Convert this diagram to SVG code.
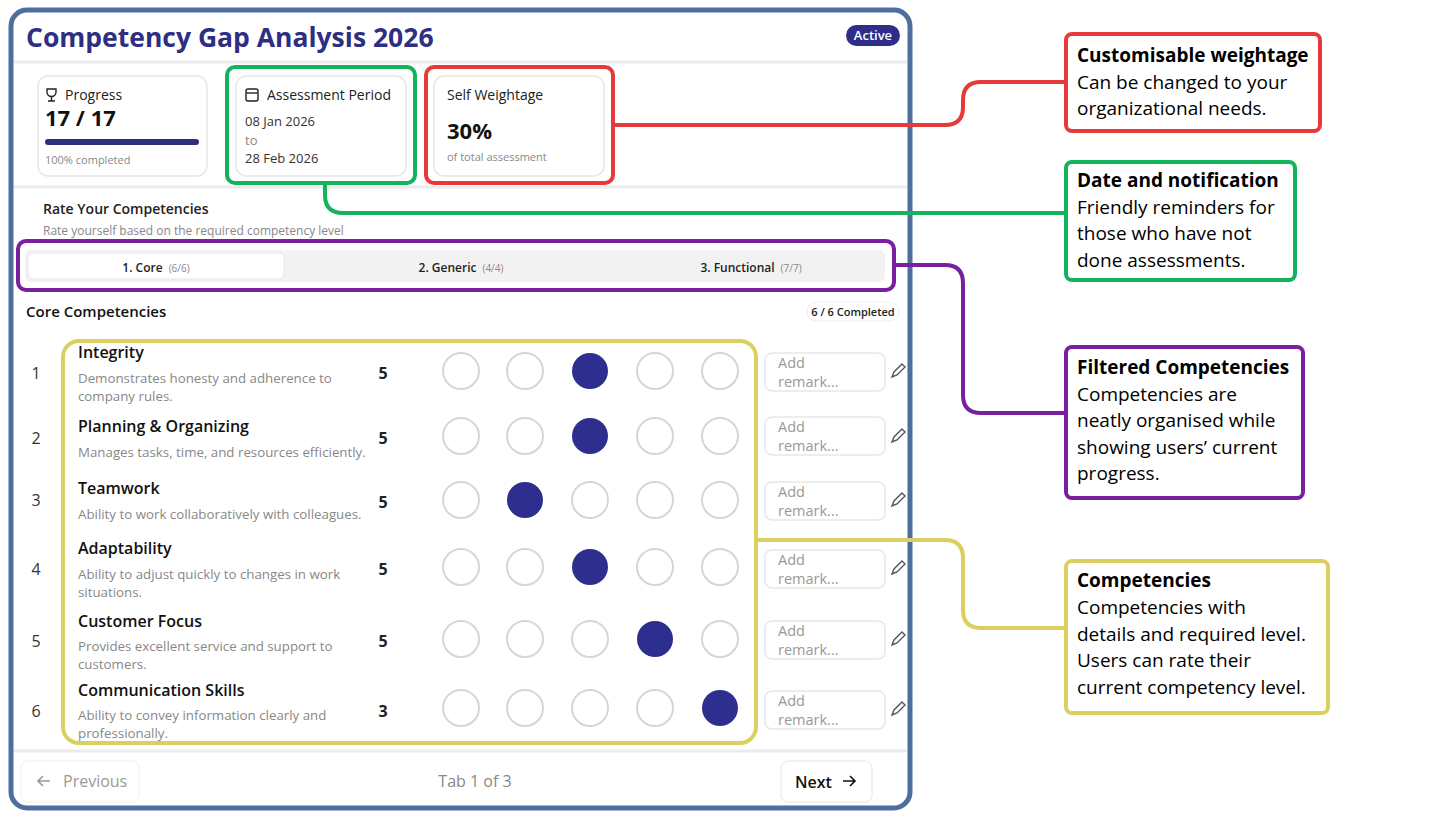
<svg xmlns="http://www.w3.org/2000/svg" width="1456" height="840" viewBox="0 0 1456 840">
<style>
text{font-family:"Segoe UI","Open Sans","Noto Sans",sans-serif}
.card{fill:#fff;stroke:#e6e6e6;stroke-width:1.5}
.sep{stroke:#ebebeb;stroke-width:3}
.num{font-size:16px;fill:#333}
.tt{font-size:16px;font-weight:600;fill:#111}
.ds{font-size:13.3px;fill:#888}
.lv{font-size:16px;font-weight:700;fill:#222}
.c{fill:#fff;stroke:#d6d6d6;stroke-width:2}
.f{fill:#2e2e8e}
.rm{fill:#fff;stroke:#e8e8e8;stroke-width:1.5}
.rt{font-size:14.5px;fill:#999}
.ct{font-size:19px;font-weight:700;fill:#000}
.cb{font-size:19px;fill:#000}
.conn{fill:none;stroke-width:4}
</style>
<rect width="1456" height="840" fill="#fff"/>
<g id="frame">
<rect x="11" y="10" width="899" height="798" rx="16" fill="#fff" stroke="#4d6f9d" stroke-width="5"/>
<text x="26" y="47" font-size="26.5" font-weight="700" fill="#2e2e82">Competency Gap Analysis 2026</text>
<rect x="846" y="25" width="54" height="21" rx="10.5" fill="#2e2e8a"/>
<text x="873" y="40" font-size="13" font-weight="600" fill="#fff" text-anchor="middle">Active</text>
<line x1="14" y1="62" x2="907" y2="62" class="sep"/>
<line x1="14" y1="187" x2="907" y2="187" class="sep"/>
<line x1="14" y1="751" x2="907" y2="751" class="sep"/>
</g>
<g id="progress">
<rect x="38" y="76" width="169" height="100" rx="10" class="card"/>
<path d="M47 89h9v3a4.5 4.5 0 0 1-9 0z M51.5 96.5v4 M48 101h7" fill="none" stroke="#222" stroke-width="1.4"/>
<text x="65" y="100" font-size="14" fill="#222">Progress</text>
<text x="45" y="126" font-size="22" font-weight="700" fill="#111">17 / 17</text>
<rect x="45" y="139" width="154" height="6" rx="3" fill="#2e2e82"/>
<text x="45" y="164" font-size="11" fill="#888">100% completed</text>
</g>
<g id="period">
<rect x="236" y="76" width="170" height="100" rx="10" class="card"/>
<rect x="246" y="89" width="12" height="12" rx="2" fill="none" stroke="#222" stroke-width="1.4"/>
<line x1="246" y1="93" x2="258" y2="93" stroke="#222" stroke-width="1.4"/>
<text x="267" y="100" font-size="14" fill="#222">Assessment Period</text>
<text x="245" y="126" font-size="13" fill="#333">08 Jan 2026</text>
<text x="245" y="145" font-size="13" fill="#888">to</text>
<text x="245" y="163" font-size="13" fill="#333">28 Feb 2026</text>
</g>
<g id="weight">
<rect x="434" y="76" width="170" height="100" rx="10" class="card"/>
<text x="447" y="100" font-size="14" fill="#222">Self Weightage</text>
<text x="447" y="139" font-size="22" font-weight="700" fill="#111">30%</text>
<text x="447" y="161" font-size="11" fill="#888">of total assessment</text>
</g>
<g id="rate">
<text x="43" y="214" font-size="14" font-weight="600" fill="#222">Rate Your Competencies</text>
<text x="43" y="235" font-size="12" fill="#888">Rate yourself based on the required competency level</text>
</g>
<g id="tabs">
<rect x="25" y="250" width="860" height="32" rx="6" fill="#f2f2f2"/>
<rect x="28" y="253" width="256" height="26" rx="5" fill="#fff" stroke="#e6e6e6"/>
<text x="156" y="272" font-size="12" text-anchor="middle"><tspan fill="#222" font-weight="600">1. Core</tspan><tspan fill="#888" font-size="10" dx="6">(6/6)</tspan></text>
<text x="461" y="272" font-size="12" text-anchor="middle"><tspan fill="#222" font-weight="600">2. Generic</tspan><tspan fill="#888" font-size="10" dx="6">(4/4)</tspan></text>
<text x="751" y="272" font-size="12" text-anchor="middle"><tspan fill="#222" font-weight="600">3. Functional</tspan><tspan fill="#888" font-size="10" dx="6">(7/7)</tspan></text>
</g>
<g id="core">
<text x="26" y="317" font-size="15" font-weight="600" fill="#111">Core Competencies</text>
<rect x="807" y="302" width="92" height="19" rx="9.5" fill="#fff" stroke="#eee"/>
<text x="853" y="316" font-size="11" font-weight="600" fill="#222" text-anchor="middle">6 / 6 Completed</text>
</g>
<g id="rows">
<text x="36" y="379" class="num" text-anchor="middle">1</text>
<text x="78" y="358" class="tt">Integrity</text>
<text x="78" y="383" class="ds">Demonstrates honesty and adherence to</text>
<text x="78" y="401" class="ds">company rules.</text>
<text x="383" y="379" class="lv" text-anchor="middle">5</text>

<text x="36" y="444" class="num" text-anchor="middle">2</text>
<text x="78" y="432" class="tt">Planning &amp; Organizing</text>
<text x="78" y="457" class="ds">Manages tasks, time, and resources efficiently.</text>
<text x="383" y="444" class="lv" text-anchor="middle">5</text>

<text x="36" y="506" class="num" text-anchor="middle">3</text>
<text x="78" y="494" class="tt">Teamwork</text>
<text x="78" y="519" class="ds">Ability to work collaboratively with colleagues.</text>
<text x="383" y="508" class="lv" text-anchor="middle">5</text>

<text x="36" y="575" class="num" text-anchor="middle">4</text>
<text x="78" y="554" class="tt">Adaptability</text>
<text x="78" y="579" class="ds">Ability to adjust quickly to changes in work</text>
<text x="78" y="597" class="ds">situations.</text>
<text x="383" y="575" class="lv" text-anchor="middle">5</text>

<text x="36" y="647" class="num" text-anchor="middle">5</text>
<text x="78" y="627" class="tt">Customer Focus</text>
<text x="78" y="651" class="ds">Provides excellent service and support to</text>
<text x="78" y="669" class="ds">customers.</text>
<text x="383" y="647" class="lv" text-anchor="middle">5</text>

<text x="36" y="717" class="num" text-anchor="middle">6</text>
<text x="78" y="696" class="tt">Communication Skills</text>
<text x="78" y="720" class="ds">Ability to convey information clearly and</text>
<text x="78" y="738" class="ds">professionally.</text>
<text x="383" y="717" class="lv" text-anchor="middle">3</text>
</g>
<g id="ratings">
<circle cx="461" cy="371" r="18" class="c"/><circle cx="525" cy="371" r="18" class="c"/><circle cx="590" cy="371" r="18" class="f"/><circle cx="655" cy="371" r="18" class="c"/><circle cx="720" cy="371" r="18" class="c"/>
<circle cx="461" cy="436" r="18" class="c"/><circle cx="525" cy="436" r="18" class="c"/><circle cx="590" cy="436" r="18" class="f"/><circle cx="655" cy="436" r="18" class="c"/><circle cx="720" cy="436" r="18" class="c"/>
<circle cx="461" cy="500" r="18" class="c"/><circle cx="525" cy="500" r="18" class="f"/><circle cx="590" cy="500" r="18" class="c"/><circle cx="655" cy="500" r="18" class="c"/><circle cx="720" cy="500" r="18" class="c"/>
<circle cx="461" cy="567" r="18" class="c"/><circle cx="525" cy="567" r="18" class="c"/><circle cx="590" cy="567" r="18" class="f"/><circle cx="655" cy="567" r="18" class="c"/><circle cx="720" cy="567" r="18" class="c"/>
<circle cx="461" cy="639" r="18" class="c"/><circle cx="525" cy="639" r="18" class="c"/><circle cx="590" cy="639" r="18" class="c"/><circle cx="655" cy="639" r="18" class="f"/><circle cx="720" cy="639" r="18" class="c"/>
<circle cx="461" cy="708" r="18" class="c"/><circle cx="525" cy="708" r="18" class="c"/><circle cx="590" cy="708" r="18" class="c"/><circle cx="655" cy="708" r="18" class="c"/><circle cx="720" cy="708" r="18" class="f"/>
</g>
<g id="remarks">
<rect x="765" y="353" width="120" height="38" rx="7" class="rm"/><text x="778" y="368" class="rt">Add</text><text x="778" y="387" class="rt">remark...</text>
<rect x="765" y="417" width="120" height="38" rx="7" class="rm"/><text x="778" y="432" class="rt">Add</text><text x="778" y="451" class="rt">remark...</text>
<rect x="765" y="482" width="120" height="38" rx="7" class="rm"/><text x="778" y="497" class="rt">Add</text><text x="778" y="516" class="rt">remark...</text>
<rect x="765" y="550" width="120" height="38" rx="7" class="rm"/><text x="778" y="565" class="rt">Add</text><text x="778" y="584" class="rt">remark...</text>
<rect x="765" y="621" width="120" height="38" rx="7" class="rm"/><text x="778" y="636" class="rt">Add</text><text x="778" y="655" class="rt">remark...</text>
<rect x="765" y="691" width="120" height="38" rx="7" class="rm"/><text x="778" y="706" class="rt">Add</text><text x="778" y="725" class="rt">remark...</text>
<g fill="none" stroke="#555" stroke-width="1.4">
<path d="M892 377l2-5 8-8 3 3-8 8z"/><path d="M892 442l2-5 8-8 3 3-8 8z"/><path d="M892 506l2-5 8-8 3 3-8 8z"/>
<path d="M892 574l2-5 8-8 3 3-8 8z"/><path d="M892 645l2-5 8-8 3 3-8 8z"/><path d="M892 715l2-5 8-8 3 3-8 8z"/>
</g>
</g>
<g id="footer">
<rect x="21" y="761" width="118" height="41" rx="7" fill="#fff" stroke="#eee"/>
<path d="M50 781h-12m5-5l-5 5 5 5" fill="none" stroke="#999" stroke-width="1.6"/>
<text x="63" y="787" font-size="16" fill="#999">Previous</text>
<text x="475" y="787" font-size="16" fill="#888" text-anchor="middle">Tab 1 of 3</text>
<rect x="781" y="761" width="91" height="41" rx="7" fill="#fff" stroke="#e6e6e6"/>
<text x="795" y="788" font-size="16" font-weight="600" fill="#111">Next</text>
<path d="M843 781h12m-5-5l5 5-5 5" fill="none" stroke="#111" stroke-width="1.6"/>
</g>
<g id="highlights" fill="none" stroke-width="4">
<rect x="227" y="67" width="188" height="116" rx="8" stroke="#12b35a"/>
<rect x="426" y="67" width="187" height="116" rx="8" stroke="#e63a3a"/>
<rect x="18" y="241" width="876" height="49" rx="8" stroke="#7a1fa0"/>
<rect x="63" y="341" width="693" height="402" rx="16" stroke="#dccf62"/>
</g>
<g id="connectors">
<path class="conn" stroke="#e63a3a" d="M613 125H945Q963 125 963 107V100Q963 82 981 82H1066"/>
<path class="conn" stroke="#12b35a" d="M325 183V195Q325 213 343 213H1066"/>
<path class="conn" stroke="#7a1fa0" d="M894 265H945Q963 265 963 283V395Q963 413 981 413H1066"/>
<path class="conn" stroke="#dccf62" d="M756 540H945Q963 540 963 558V610Q963 628 981 628H1066"/>
</g>
<g id="callout-weightage">
<rect x="1066" y="34" width="254" height="97" rx="6" fill="#fff" stroke="#e63a3a" stroke-width="4"/>
<text x="1077" y="62" class="ct">Customisable weightage</text>
<text x="1077" y="89" class="cb">Can be changed to your</text>
<text x="1077" y="115" class="cb">organizational needs.</text>
</g>
<g id="callout-date">
<rect x="1066" y="162" width="229" height="118" rx="6" fill="#fff" stroke="#12b35a" stroke-width="4"/>
<text x="1077" y="187" class="ct">Date and notification</text>
<text x="1077" y="214" class="cb">Friendly reminders for</text>
<text x="1077" y="240" class="cb">those who have not</text>
<text x="1077" y="267" class="cb">done assessments.</text>
</g>
<g id="callout-filtered">
<rect x="1066" y="347" width="237" height="151" rx="6" fill="#fff" stroke="#7a1fa0" stroke-width="4"/>
<text x="1077" y="374" class="ct">Filtered Competencies</text>
<text x="1077" y="401" class="cb">Competencies are</text>
<text x="1077" y="427" class="cb">neatly organised while</text>
<text x="1077" y="454" class="cb">showing users’ current</text>
<text x="1077" y="480" class="cb">progress.</text>
</g>
<g id="callout-competencies">
<rect x="1066" y="561" width="262" height="152" rx="6" fill="#fff" stroke="#dccf62" stroke-width="4"/>
<text x="1077" y="587" class="ct">Competencies</text>
<text x="1077" y="614" class="cb">Competencies with</text>
<text x="1077" y="641" class="cb">details and required level.</text>
<text x="1077" y="667" class="cb">Users can rate their</text>
<text x="1077" y="694" class="cb">current competency level.</text>
</g>
</svg>
